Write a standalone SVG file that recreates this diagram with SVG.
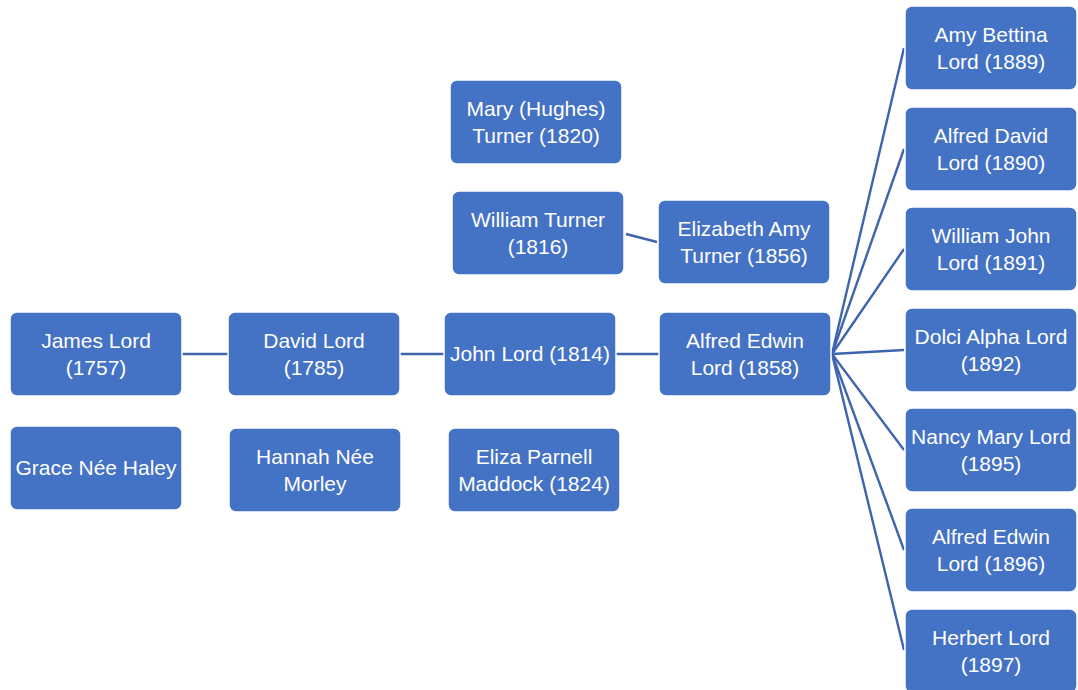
<svg xmlns="http://www.w3.org/2000/svg" width="1078" height="690" viewBox="0 0 1078 690">
<style>
.n rect{fill:#4472C4;stroke:#ffffff;stroke-width:1.5}
.n text{fill:#ffffff;font-family:"Liberation Sans",Arial,sans-serif;font-size:21px;text-anchor:middle}
.c line{stroke:#3F64AE;stroke-width:2.4}
</style>
<rect width="1078" height="690" fill="#ffffff"/>
<g class="c">
<line x1="182" y1="354" x2="228" y2="354"/>
<line x1="400" y1="354" x2="444" y2="354"/>
<line x1="616" y1="354" x2="659" y2="354"/>
<line x1="626" y1="234" x2="657" y2="242"/>
<line x1="832" y1="354" x2="904" y2="48"/>
<line x1="832" y1="354" x2="904" y2="149"/>
<line x1="832" y1="354" x2="904" y2="249"/>
<line x1="832" y1="354" x2="904" y2="350"/>
<line x1="832" y1="354" x2="904" y2="450"/>
<line x1="832" y1="354" x2="904" y2="550"/>
<line x1="832" y1="354" x2="904" y2="650"/>
</g>
<g class="n" id="james"><rect x="10" y="312" width="172" height="84" rx="7"/><text x="96" y="348">James Lord</text><text x="96" y="375">(1757)</text></g>
<g class="n" id="grace"><rect x="10" y="426" width="172" height="84" rx="7"/><text x="96" y="475">Grace Née Haley</text></g>
<g class="n" id="david"><rect x="228" y="312" width="172" height="84" rx="7"/><text x="314" y="348">David Lord</text><text x="314" y="375">(1785)</text></g>
<g class="n" id="hannah"><rect x="229" y="428" width="172" height="84" rx="7"/><text x="315" y="464">Hannah Née</text><text x="315" y="491">Morley</text></g>
<g class="n" id="john"><rect x="444" y="312" width="172" height="84" rx="7"/><text x="530" y="361">John Lord (1814)</text></g>
<g class="n" id="eliza"><rect x="448" y="428" width="172" height="84" rx="7"/><text x="534" y="464">Eliza Parnell</text><text x="534" y="491">Maddock (1824)</text></g>
<g class="n" id="mary"><rect x="450" y="80" width="172" height="84" rx="7"/><text x="536" y="116">Mary (Hughes)</text><text x="536" y="143">Turner (1820)</text></g>
<g class="n" id="william"><rect x="452" y="191" width="172" height="84" rx="7"/><text x="538" y="227">William Turner</text><text x="538" y="254">(1816)</text></g>
<g class="n" id="elizabeth"><rect x="658" y="200" width="172" height="84" rx="7"/><text x="744" y="236">Elizabeth Amy</text><text x="744" y="263">Turner (1856)</text></g>
<g class="n" id="alfred1858"><rect x="659" y="312" width="172" height="84" rx="7"/><text x="745" y="348">Alfred Edwin</text><text x="745" y="375">Lord (1858)</text></g>
<g class="n" id="amy"><rect x="905" y="6" width="172" height="84" rx="7"/><text x="991" y="42">Amy Bettina</text><text x="991" y="69">Lord (1889)</text></g>
<g class="n" id="alfreddavid"><rect x="905" y="107" width="172" height="84" rx="7"/><text x="991" y="143">Alfred David</text><text x="991" y="170">Lord (1890)</text></g>
<g class="n" id="williamjohn"><rect x="905" y="207" width="172" height="84" rx="7"/><text x="991" y="243">William John</text><text x="991" y="270">Lord (1891)</text></g>
<g class="n" id="dolci"><rect x="905" y="308" width="172" height="84" rx="7"/><text x="991" y="344">Dolci Alpha Lord</text><text x="991" y="371">(1892)</text></g>
<g class="n" id="nancy"><rect x="905" y="408" width="172" height="84" rx="7"/><text x="991" y="444">Nancy Mary Lord</text><text x="991" y="471">(1895)</text></g>
<g class="n" id="alfred1896"><rect x="905" y="508" width="172" height="84" rx="7"/><text x="991" y="544">Alfred Edwin</text><text x="991" y="571">Lord (1896)</text></g>
<g class="n" id="herbert"><rect x="905" y="609" width="172" height="84" rx="7"/><text x="991" y="645">Herbert Lord</text><text x="991" y="672">(1897)</text></g>
</svg>
